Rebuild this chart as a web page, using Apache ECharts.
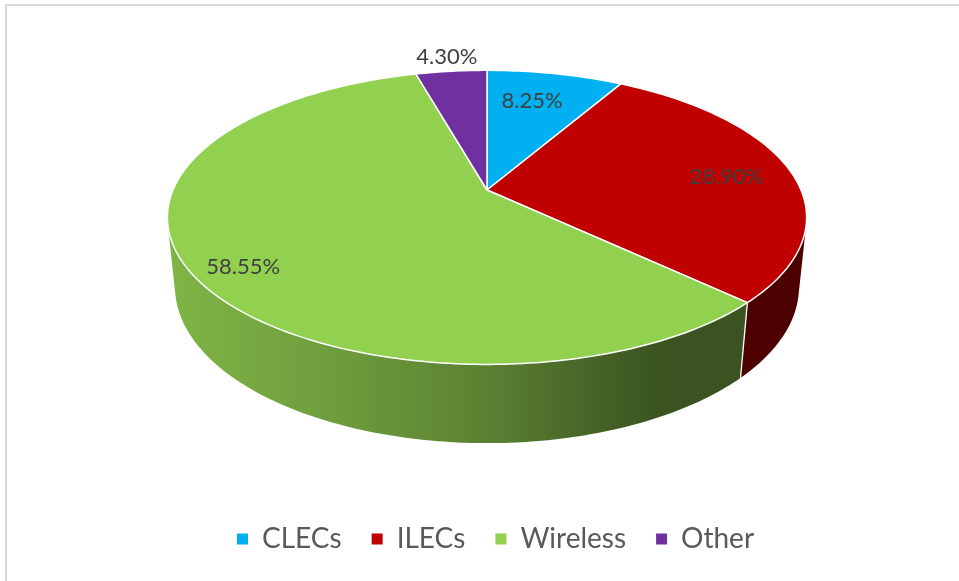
<!DOCTYPE html>
<html>
<head>
<meta charset="utf-8">
<script src="https://cdn.jsdelivr.net/npm/echarts@6/dist/echarts.min.js"></script>
<style>
  html, body { margin: 0; padding: 0; background: #fff; }
  #main { width: 959px; height: 581px; }
</style>
</head>
<body>
<div id="main"></div>
<script>
var names = ['CLECs', 'ILECs', 'Wireless', 'Other'];
var values = [8.25, 28.90, 58.55, 4.30];
var colors = ['#00b0f0', '#c00000', '#92d050', '#7030a0'];

// view of the tilted pie (perspective)
var CX = 487, CY = 190, R = 314;
var SIN = 0.452, COS = Math.sqrt(1 - SIN * SIN);
var L = 4.79, DEPTH = 0.25;
// label anchor: [radius, angle shift]
var labelPos = [[0.73, -2], [0.78, 1.5], [0.86, -4], [1.15, 0]];
// wall shading along screen x
var wallShade = [[0, 0.87], [0.25, 0.76], [0.5, 0.62], [0.7, 0.45], [0.78, 0.40], [1, 0.40]];

var total = values.reduce(function (a, b) { return a + b; }, 0);

function proj(deg, r, h) {
  var a = deg * Math.PI / 180;
  var X = r * Math.sin(a), Z = -r * Math.cos(a), Y = h;
  var yp = Y * COS - Z * SIN;
  var zp = Y * SIN + Z * COS;
  var k = L / (L - zp);
  return [CX + R * X * k, CY - R * yp * k];
}

function shade(hex, f) {
  var n = parseInt(hex.slice(1), 16);
  var r = Math.round(((n >> 16) & 255) * f), g = Math.round(((n >> 8) & 255) * f), b = Math.round((n & 255) * f);
  return 'rgb(' + r + ',' + g + ',' + b + ')';
}

// wall faces the viewer between these angles
var wallMin = Math.acos(-1 / (L * COS)) * 180 / Math.PI;
var wallMax = 360 - wallMin;

function arc(a1, a2, r, h) {
  var pts = [];
  var n = Math.max(2, Math.ceil(Math.abs(a2 - a1)));
  for (var j = 0; j <= n; j++) pts.push(proj(a1 + (a2 - a1) * j / n, r, h));
  return pts;
}

function makeSeries(i) {
  return {
    type: 'custom',
    name: names[i],
    coordinateSystem: 'none',
    silent: true,
    itemStyle: { color: colors[i] },
    data: [values[i]],
    renderItem: function (params, api) {
      var before = 0;
      for (var j = 0; j < i; j++) before += values[j];
      var a1 = before / total * 360;
      var a2 = (before + api.value(0)) / total * 360;
      var children = [];

      // side wall
      var w1 = Math.max(a1, wallMin), w2 = Math.min(a2, wallMax);
      if (w2 > w1) {
        var pts = arc(w1, w2, 1, 0).concat(arc(w2, w1, 1, -DEPTH));
        children.push({
          type: 'polygon',
          z2: 1,
          shape: { points: pts },
          style: {
            fill: {
              type: 'linear', x: 167, y: 0, x2: 806, y2: 0, global: true,
              colorStops: wallShade.map(function (s) { return { offset: s[0], color: shade(colors[i], s[1]) }; })
            },
            stroke: null
          }
        });
        if (a1 >= wallMin && a1 <= wallMax) {
          var p0 = proj(a1, 1, 0), p1 = proj(a1, 1, -DEPTH);
          children.push({
            type: 'line', z2: 2,
            shape: { x1: p0[0], y1: p0[1], x2: p1[0], y2: p1[1] },
            style: { stroke: '#ffffff', lineWidth: 1.3 }
          });
        }
      }

      // top face
      var top = [proj(0, 0, 0)].concat(arc(a1, a2, 1, 0));
      children.push({
        type: 'polygon',
        z2: 10,
        shape: { points: top },
        style: { fill: colors[i], stroke: '#ffffff', lineWidth: 1.5, lineJoin: 'round' }
      });

      // label
      var lp = proj((a1 + a2) / 2 + labelPos[i][1], labelPos[i][0], 0);
      children.push({
        type: 'text',
        z2: 20,
        style: {
          x: lp[0], y: lp[1],
          text: values[i].toFixed(2) + '%',
          fill: '#404040',
          font: '22px Lato',
          align: 'center',
          verticalAlign: 'middle'
        }
      });
      return { type: 'group', children: children };
    }
  };
}

var option = {
  animation: false,
  color: colors,
  graphic: [{
    type: 'rect',
    silent: true,
    shape: { x: 6, y: 5, width: 1000, height: 1000 },
    style: { fill: null, stroke: '#d9d9d9', lineWidth: 2 }
  }],
  legend: {
    data: names,
    left: 232,
    top: 520,
    icon: 'rect',
    itemWidth: 11,
    itemHeight: 11,
    itemGap: 30,
    selectedMode: false,
    textStyle: { fontFamily: 'Lato', fontSize: 28, color: '#595959', padding: [0, 0, 0, 9] }
  },
  series: names.map(function (n, i) { return makeSeries(i); })
};

var chart = echarts.init(document.getElementById('main'));
chart.setOption(option);
</script>
</body>
</html>
